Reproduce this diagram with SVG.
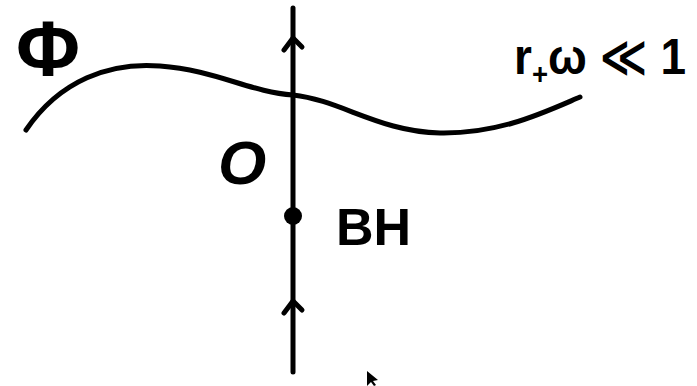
<svg xmlns="http://www.w3.org/2000/svg" width="697" height="386" viewBox="0 0 697 386">
<style>
.ln{fill:none;stroke:#000;stroke-width:5;stroke-linecap:round;stroke-linejoin:round}
.t{font-family:"Liberation Sans","DejaVu Sans",sans-serif;fill:#000}
</style>
<rect width="697" height="386" fill="#fff"/>
<g id="connectors">
<path class="ln" d="M26,130 C60,80 110,62 160,66 C215,70 250,92 293,95 C340,100 380,132 440,133 C500,134 545,112 580,97"/>
<path class="ln" d="M293,8 L293,372"/>
<path class="ln" d="M284,50 L293,38 L302,47"/>
<path class="ln" d="M284,313 L293,301 L302,310"/>
</g>
<g id="node-phi"><text class="t" x="16" y="76" font-size="78" font-weight="bold">Φ</text></g>
<g id="node-O"><text class="t" x="218" y="184" font-size="62" font-weight="bold" font-style="italic">O</text></g>
<g id="node-BH"><circle cx="293" cy="216" r="9" fill="#000"/><text class="t" x="336" y="245" font-size="52" font-weight="bold">BH</text></g>
<g id="node-cond"><text class="t" x="514" y="74" font-size="50" font-weight="bold" textLength="172" lengthAdjust="spacingAndGlyphs">r<tspan font-size="30" dy="10">+</tspan><tspan dy="-10">ω ≪ 1</tspan></text></g>
<g id="cursor"><path d="M367,371 L367,386 L371,382 L374,386 L376,385 L373,381 L378,380 Z" fill="#000"/></g>
</svg>
